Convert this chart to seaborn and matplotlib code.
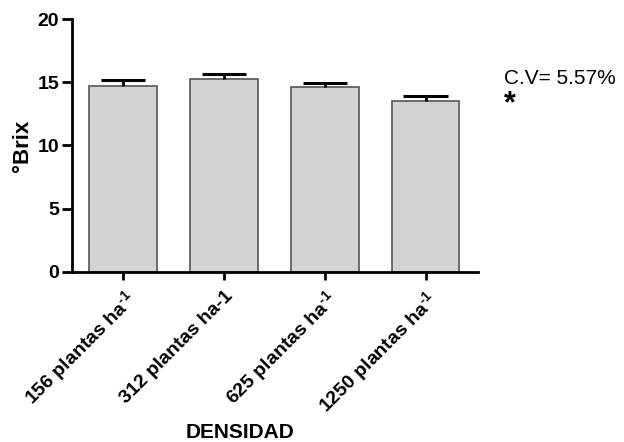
import matplotlib
matplotlib.use("Agg")
import matplotlib.pyplot as plt
import seaborn as sns
import pandas as pd

categories = ["156 plantas ha$^{\\text{-1}}$", "312 plantas ha-1", "625 plantas ha$^{\\text{-1}}$", "1250 plantas ha$^{\\text{-1}}$"]
means = [14.73, 15.26, 14.60, 13.52]
errors = [0.43, 0.39, 0.34, 0.37]
yticks = [0, 5, 10, 15, 20]

sns.set_theme(style="ticks")
plt.rcParams['font.family'] = ['Liberation Sans', 'DejaVu Sans']
plt.rcParams['text.color'] = 'black'
plt.rcParams['axes.labelcolor'] = 'black'
plt.rcParams['xtick.color'] = 'black'
plt.rcParams['ytick.color'] = 'black'
plt.rcParams['mathtext.fontset'] = 'custom'
plt.rcParams['mathtext.rm'] = 'Liberation Sans:bold'
plt.rcParams['mathtext.it'] = 'Liberation Sans:bold'
plt.rcParams['mathtext.bf'] = 'Liberation Sans:bold'

df = pd.DataFrame({"cat": categories, "val": means, "err": errors})

fig = plt.figure(figsize=(6.24, 4.42), dpi=100)
ax = fig.add_axes([0.115, 0.385, 0.651, 0.572])

sns.barplot(data=df, x="cat", y="val", color="#d3d3d3", edgecolor="#555555",
            linewidth=1.2, width=0.67, errorbar=None, ax=ax, saturation=1)
xs = list(range(len(categories)))
tops = [m + e for m, e in zip(means, errors)]
ax.vlines(xs, means, tops, color="black", linewidth=2, zorder=3)
ax.hlines(tops, [x - 0.22 for x in xs], [x + 0.22 for x in xs], color="black", linewidth=2.2, zorder=3)

ax.set_xlim(-0.51, 3.52)
ax.set_ylim(0, 20)
ax.set_yticks(yticks)
ax.set_yticklabels([str(t) for t in yticks], fontsize=14, fontweight="bold")
ax.set_xticks(xs)
ax.set_xticklabels(categories, rotation=45, ha="right", rotation_mode="anchor",
                   fontsize=14, fontweight="bold")
ax.set_xlabel("")
ax.set_ylabel("°Brix", fontsize=16, fontweight="bold", labelpad=3)
for s in ["top", "right"]:
    ax.spines[s].set_visible(False)
for s in ["left", "bottom"]:
    ax.spines[s].set_linewidth(2)
    ax.spines[s].set_color("black")
ax.tick_params(axis="y", width=2, length=7, color="black", direction="out", pad=2)
ax.tick_params(axis="x", width=2, length=6, color="black", direction="out", pad=5)

fig.text(0.385, 0.008, "DENSIDAD", fontsize=15, fontweight="bold", ha="center")
fig.text(0.807, 0.81, "C.V= 5.57%", fontsize=15)
fig.text(0.808, 0.745, "*", fontsize=22, fontweight="bold")

fig.savefig("out.png", dpi=100)
